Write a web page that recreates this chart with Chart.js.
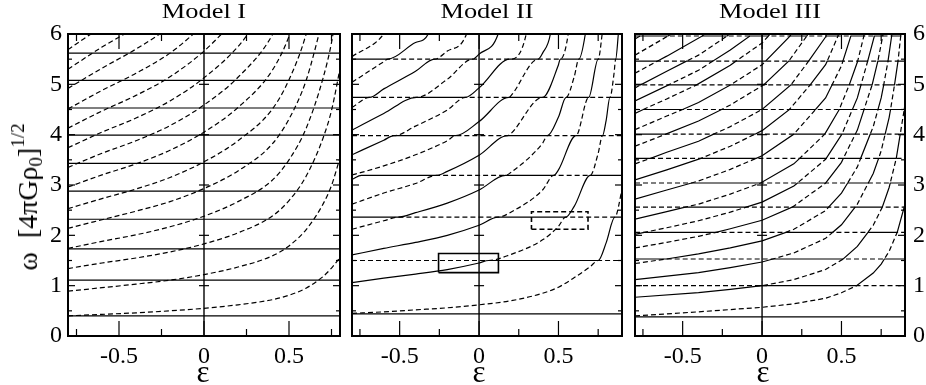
<!DOCTYPE html>
<html><head><meta charset="utf-8">
<script src="https://cdn.jsdelivr.net/npm/chart.js@4.4.0/dist/chart.umd.min.js"></script>
<style>
html,body{margin:0;padding:0;background:#fff;}
body{width:926px;height:385px;position:relative;overflow:hidden;font-family:"Liberation Serif","Times New Roman",serif;color:#000;}
canvas{position:absolute;top:0;}
.ttl{position:absolute;top:0px;font-size:22px;line-height:22px;white-space:nowrap;transform:translateX(-50%) scaleX(1.2);}
.eps{position:absolute;top:356px;font-size:31px;line-height:31px;white-space:nowrap;transform:translateX(-50%);}
#ytitle{position:absolute;left:27px;top:197px;font-size:28px;line-height:28px;white-space:nowrap;transform:translate(-50%,-50%) rotate(-90deg);}
#ytitle sub{font-size:19px;vertical-align:-5px;}
#ytitle sup{font-size:19px;vertical-align:13px;}
</style></head>
<body>
<canvas id="c1" width="346" height="385" style="left:0px"></canvas>
<canvas id="c2" width="282" height="385" style="left:346px"></canvas>
<canvas id="c3" width="298" height="385" style="left:628px"></canvas>
<div class="ttl" style="left:204px">Model I</div>
<div class="ttl" style="left:487px">Model II</div>
<div class="ttl" style="left:770px">Model III</div>
<div class="eps" style="left:203px">ε</div>
<div class="eps" style="left:479px">ε</div>
<div class="eps" style="left:763px">ε</div>
<div id="ytitle">ω&nbsp;&nbsp;[4πGρ<sub>0</sub>]<sup>1/2</sup></div>
<script>
// ---------- axis ticks ----------
const xLabels = [-0.5, 0, 0.5];
const yLabels = [0, 1, 2, 3, 4, 5, 6];
const xMajor = [-0.5, 0, 0.5];
const xMinor = [-0.75, -0.25, 0.25, 0.75];
const yMajor = [1, 2, 3, 4, 5];
const yMinor = [0.5, 1.5, 2.5, 3.5, 4.5, 5.5];

// ---------- Model I ----------
const m1Eps = [-0.8, -0.6, -0.4, -0.2, 0, 0.2, 0.4, 0.5, 0.6, 0.7, 0.75, 0.8];
const m1Flat = [0.40, 1.11, 1.73, 2.32, 2.88, 3.43, 3.99, 4.53, 5.08, 5.62];
const m1Rise = [
  [0.40, 0.43, 0.46, 0.50, 0.55, 0.62, 0.72, 0.81, 0.95, 1.18, 1.35, 1.56],
  [0.89, 0.96, 1.03, 1.11, 1.22, 1.37, 1.59, 1.79, 2.11, 2.62, 2.99, 3.54],
  [1.34, 1.45, 1.55, 1.67, 1.83, 2.05, 2.38, 2.69, 3.17, 3.93, 4.48, 5.31],
  [1.74, 1.88, 2.01, 2.17, 2.38, 2.67, 3.09, 3.50, 4.12, 5.12, 5.83, 6.90],
  [2.14, 2.31, 2.48, 2.67, 2.93, 3.28, 3.81, 4.31, 5.07, 6.30],
  [2.53, 2.73, 2.92, 3.15, 3.46, 3.88, 4.50, 5.09, 5.99, 7.44],
  [2.96, 3.20, 3.42, 3.69, 4.05, 4.54, 5.27, 5.95, 7.01],
  [3.35, 3.63, 3.88, 4.18, 4.59, 5.14, 5.97, 6.75],
  [3.74, 4.05, 4.33, 4.67, 5.13, 5.75, 6.67],
  [4.13, 4.47, 4.78, 5.15, 5.66, 6.34],
  [4.51, 4.88, 5.22, 5.62, 6.18],
  [4.92, 5.32, 5.70, 6.13],
  [5.30, 5.74, 6.13],
  [5.69, 6.15]
];

// ---------- Model II : [eps, omega] ----------
const m2Solid = [
  [[-0.8, 0.44], [0.9, 0.44]],
  [[-0.8, 1.06], [-0.6, 1.15], [-0.4, 1.23], [-0.2, 1.32], [0, 1.45], [0.06, 1.50], [0.75, 1.50], [0.8, 1.85], [0.855, 2.36], [0.9, 2.36]],
  [[-0.8, 1.61], [-0.6, 1.74], [-0.4, 1.86], [-0.2, 2.00], [0, 2.20], [0.12, 2.36], [0.545, 2.36], [0.6, 2.58], [0.70, 3.19], [0.9, 3.19]],
  [[-0.8, 2.36], [-0.51, 2.36], [-0.4, 2.45], [-0.2, 2.64], [0, 2.90], [0.166, 3.19], [0.47, 3.19], [0.5, 3.30], [0.61, 3.98], [0.777, 3.98], [0.8, 4.28], [0.824, 4.74], [0.9, 4.74]],
  [[-0.8, 3.11], [-0.74, 3.19], [-0.267, 3.19], [-0.2, 3.27], [0, 3.59], [0.18, 3.98], [0.43, 3.98], [0.5, 4.35], [0.548, 4.74], [0.69, 4.74], [0.75, 5.50], [0.86, 5.50], [0.877, 6.0], [0.885, 6.3]],
  [[-0.8, 3.60], [-0.6, 3.89], [-0.536, 3.98], [-0.147, 3.98], [0, 4.26], [0.188, 4.74], [0.40, 4.74], [0.5, 5.39], [0.511, 5.50], [0.628, 5.50], [0.669, 6.0], [0.68, 6.3]],
  [[-0.8, 4.09], [-0.6, 4.42], [-0.395, 4.74], [-0.086, 4.74], [0, 4.93], [0.193, 5.50], [0.372, 5.50], [0.4, 5.62], [0.449, 6.0], [0.46, 6.3]],
  [[-0.8, 4.74], [-0.69, 4.74], [-0.6, 4.91], [-0.4, 5.26], [-0.28, 5.50], [-0.04, 5.50], [0, 5.60], [0.12, 6.0], [0.14, 6.3]],
  [[-0.8, 5.50], [-0.574, 5.50], [-0.4, 5.83], [-0.32, 6.0], [-0.3, 6.3]]
];
const m2Dashed = [
  [[-0.8, 0.45], [-0.6, 0.48], [-0.4, 0.52], [-0.2, 0.56], [0, 0.62], [0.2, 0.70], [0.4, 0.85], [0.5, 0.97], [0.6, 1.16], [0.7, 1.38], [0.75, 1.50], [0.9, 1.50]],
  [[-0.8, 1.50], [0.06, 1.50], [0.2, 1.62], [0.4, 1.91], [0.5, 2.18], [0.545, 2.36], [0.855, 2.36], [0.9, 2.90]],
  [[-0.8, 2.12], [-0.6, 2.29], [-0.51, 2.36], [0.12, 2.36], [0.2, 2.46], [0.4, 2.90], [0.47, 3.19], [0.70, 3.19], [0.75, 3.63], [0.777, 3.98], [0.9, 3.98]],
  [[-0.8, 2.62], [-0.6, 2.84], [-0.4, 3.03], [-0.267, 3.19], [0.166, 3.19], [0.2, 3.25], [0.4, 3.83], [0.43, 3.98], [0.61, 3.98], [0.69, 4.74], [0.824, 4.74], [0.85, 5.22], [0.86, 5.50], [0.9, 5.50]],
  [[-0.8, 3.20], [-0.74, 3.25], [-0.6, 3.38], [-0.4, 3.60], [-0.2, 3.88], [-0.147, 3.98], [0.18, 3.98], [0.2, 4.02], [0.4, 4.74], [0.548, 4.74], [0.6, 5.16], [0.628, 5.50], [0.75, 5.50], [0.775, 6.0], [0.785, 6.3]],
  [[-0.8, 3.98], [-0.536, 3.98], [-0.4, 4.17], [-0.2, 4.49], [-0.086, 4.74], [0.188, 4.74], [0.2, 4.77], [0.372, 5.50], [0.511, 5.50], [0.561, 6.0], [0.57, 6.3]],
  [[-0.8, 4.54], [-0.69, 4.74], [-0.395, 4.74], [-0.2, 5.10], [-0.04, 5.50], [0.193, 5.50], [0.297, 6.0], [0.31, 6.3]],
  [[-0.8, 5.04], [-0.6, 5.45], [-0.574, 5.50], [-0.28, 5.50], [-0.2, 5.66], [-0.079, 6.0], [-0.06, 6.3]],
  [[-0.8, 5.55], [-0.6, 6.0], [-0.55, 6.3]]
];
const m2BoxSolid = [[-0.255, 1.26], [0.122, 1.26], [0.122, 1.64], [-0.255, 1.64], [-0.255, 1.26]];
const m2BoxDashed = [[0.33, 2.12], [0.686, 2.12], [0.686, 2.47], [0.33, 2.47], [0.33, 2.12]];

// ---------- Model III : [eps, omega] ----------
const m3Solid = [
  [[-0.8, 0.38], [0.9, 0.38]],
  [[-0.8, 0.77], [-0.4, 0.86], [-0.2, 0.925], [0, 1.00], [0.595, 1.00], [0.7, 1.25], [0.75, 1.43], [0.77, 1.53], [0.9, 1.53]],
  [[-0.8, 1.12], [-0.4, 1.26], [-0.2, 1.36], [0, 1.47], [0.068, 1.53], [0.511, 1.53], [0.6, 1.78], [0.667, 2.06], [0.851, 2.06], [0.895, 2.56], [0.9, 2.56]],
  [[-0.8, 1.53], [-0.602, 1.53], [-0.4, 1.63], [-0.2, 1.75], [0, 1.89], [0.15, 2.06], [0.445, 2.06], [0.5, 2.21], [0.586, 2.56], [0.757, 2.56], [0.8, 2.95], [0.807, 3.04], [0.9, 3.04]],
  [[-0.8, 2.02], [-0.742, 2.06], [-0.29, 2.06], [-0.2, 2.13], [0, 2.30], [0.189, 2.56], [0.419, 2.56], [0.5, 2.84], [0.539, 3.04], [0.669, 3.04], [0.7, 3.23], [0.734, 3.53], [0.845, 3.53], [0.87, 4.01], [0.9, 4.01]],
  [[-0.8, 2.32], [-0.6, 2.47], [-0.484, 2.56], [-0.1, 2.56], [0, 2.66], [0.2, 2.98], [0.223, 3.04], [0.401, 3.04], [0.5, 3.45], [0.512, 3.53], [0.621, 3.53], [0.681, 4.01], [0.775, 4.01], [0.8, 4.34], [0.809, 4.50], [0.895, 4.50], [0.9, 4.60]],
  [[-0.8, 2.72], [-0.6, 2.90], [-0.444, 3.04], [-0.009, 3.04], [0.2, 3.42], [0.237, 3.53], [0.404, 3.53], [0.503, 4.01], [0.587, 4.01], [0.6, 4.09], [0.642, 4.50], [0.730, 4.50], [0.75, 4.73], [0.766, 4.99], [0.834, 4.99], [0.856, 5.46], [0.9, 5.46]],
  [[-0.8, 3.10], [-0.6, 3.30], [-0.385, 3.53], [-0.037, 3.53], [0, 3.58], [0.2, 4.01], [0.395, 4.01], [0.486, 4.50], [0.569, 4.50], [0.6, 4.73], [0.623, 4.99], [0.693, 4.99], [0.729, 5.46], [0.793, 5.46], [0.816, 5.96], [0.873, 5.96], [0.884, 6.3]],
  [[-0.8, 3.53], [-0.702, 3.53], [-0.6, 3.65], [-0.4, 3.87], [-0.305, 4.01], [-0.045, 4.01], [0, 4.08], [0.172, 4.50], [0.337, 4.50], [0.4, 4.73], [0.441, 4.99], [0.549, 4.99], [0.602, 5.46], [0.665, 5.46], [0.707, 5.96], [0.76, 5.96], [0.777, 6.3]],
  [[-0.8, 4.01], [-0.606, 4.01], [-0.4, 4.27], [-0.255, 4.50], [0, 4.50], [0.182, 4.99], [0.303, 4.99], [0.4, 5.39], [0.41, 5.46], [0.509, 5.46], [0.559, 5.96], [0.641, 5.96], [0.668, 6.3]],
  [[-0.8, 4.42], [-0.748, 4.50], [-0.5, 4.50], [-0.4, 4.64], [-0.197, 4.99], [0.01, 4.99], [0.168, 5.46], [0.293, 5.46], [0.4, 5.94], [0.402, 5.96], [0.478, 5.96], [0.516, 6.3]],
  [[-0.8, 4.67], [-0.588, 4.99], [-0.412, 4.99], [-0.2, 5.38], [-0.165, 5.46], [0.022, 5.46], [0.176, 5.96], [0.282, 5.96], [0.35, 6.3]],
  [[-0.8, 4.99], [-0.764, 4.99], [-0.6, 5.26], [-0.476, 5.46], [-0.311, 5.46], [-0.2, 5.68], [-0.077, 5.96], [0.04, 5.96], [0.137, 6.3]],
  [[-0.8, 5.46], [-0.66, 5.46], [-0.6, 5.56], [-0.377, 5.96], [-0.22, 5.96], [-0.077, 6.3]],
  [[-0.8, 5.90], [-0.768, 5.96], [-0.592, 5.96], [-0.408, 6.3]]
];
const m3Dashed = [
  [[-0.8, 0.40], [-0.4, 0.48], [0, 0.57], [0.2, 0.64], [0.4, 0.75], [0.5, 0.86], [0.595, 1.00], [0.9, 1.00]],
  [[-0.8, 1.00], [0, 1.00], [0.2, 1.12], [0.4, 1.32], [0.511, 1.53], [0.77, 1.53], [0.8, 1.68], [0.851, 2.06], [0.9, 2.06]],
  [[-0.8, 1.44], [-0.602, 1.53], [0.068, 1.53], [0.2, 1.65], [0.4, 1.94], [0.445, 2.06], [0.667, 2.06], [0.7, 2.2], [0.757, 2.56], [0.895, 2.56], [0.9, 2.62]],
  [[-0.8, 1.75], [-0.6, 1.86], [-0.4, 1.98], [-0.29, 2.06], [0.15, 2.06], [0.2, 2.12], [0.4, 2.49], [0.419, 2.56], [0.586, 2.56], [0.6, 2.62], [0.669, 3.04], [0.807, 3.04], [0.845, 3.53], [0.9, 3.53]],
  [[-0.8, 2.06], [-0.742, 2.06], [-0.6, 2.15], [-0.4, 2.29], [-0.2, 2.46], [-0.1, 2.56], [0.189, 2.56], [0.2, 2.58], [0.401, 3.04], [0.539, 3.04], [0.6, 3.36], [0.621, 3.53], [0.734, 3.53], [0.75, 3.68], [0.775, 4.01], [0.87, 4.01], [0.895, 4.50], [0.9, 4.50]],
  [[-0.8, 2.56], [-0.484, 2.56], [-0.4, 2.62], [-0.2, 2.82], [-0.009, 3.04], [0.223, 3.04], [0.4, 3.51], [0.404, 3.53], [0.512, 3.53], [0.587, 4.01], [0.681, 4.01], [0.7, 4.16], [0.730, 4.50], [0.809, 4.50], [0.834, 4.99], [0.9, 4.99]],
  [[-0.8, 3.04], [-0.444, 3.04], [-0.4, 3.08], [-0.2, 3.31], [-0.037, 3.53], [0.237, 3.53], [0.395, 4.01], [0.503, 4.01], [0.569, 4.50], [0.642, 4.50], [0.693, 4.99], [0.766, 4.99], [0.793, 5.46], [0.856, 5.46], [0.873, 5.96], [0.9, 5.96]],
  [[-0.8, 3.42], [-0.702, 3.53], [-0.385, 3.53], [-0.2, 3.77], [-0.045, 4.01], [0.2, 4.01], [0.337, 4.50], [0.486, 4.50], [0.549, 4.99], [0.623, 4.99], [0.665, 5.46], [0.729, 5.46], [0.76, 5.96], [0.816, 5.96], [0.829, 6.3]],
  [[-0.8, 3.77], [-0.606, 4.01], [-0.305, 4.01], [-0.2, 4.16], [0, 4.50], [0.172, 4.50], [0.303, 4.99], [0.441, 4.99], [0.5, 5.37], [0.509, 5.46], [0.602, 5.46], [0.641, 5.96], [0.707, 5.96], [0.728, 6.3]],
  [[-0.8, 4.10], [-0.6, 4.37], [-0.5, 4.50], [-0.255, 4.50], [-0.2, 4.59], [0.01, 4.99], [0.182, 4.99], [0.293, 5.46], [0.41, 5.46], [0.478, 5.96], [0.559, 5.96], [0.593, 6.3]],
  [[-0.8, 4.50], [-0.748, 4.50], [-0.6, 4.71], [-0.412, 4.99], [-0.197, 4.99], [0, 5.39], [0.022, 5.46], [0.168, 5.46], [0.282, 5.96], [0.402, 5.96], [0.444, 6.3]],
  [[-0.8, 4.93], [-0.764, 4.99], [-0.588, 4.99], [-0.4, 5.28], [-0.311, 5.46], [-0.165, 5.46], [0, 5.82], [0.04, 5.96], [0.176, 5.96], [0.249, 6.3]],
  [[-0.8, 5.22], [-0.66, 5.46], [-0.476, 5.46], [-0.4, 5.58], [-0.22, 5.96], [-0.077, 5.96], [0.043, 6.3]],
  [[-0.8, 5.58], [-0.592, 5.96], [-0.377, 5.96], [-0.225, 6.3]],
  [[-0.8, 5.96], [-0.768, 5.96], [-0.592, 6.3]]
];

// ---------- helpers ----------
const FONT = "'Liberation Serif','Times New Roman',serif";
function ds(points, dashed, smooth, width) {
  return {
    data: points.map(p => ({x: p[0], y: p[1]})),
    showLine: true, borderColor: '#000', backgroundColor: '#000',
    borderWidth: width || 1.2, pointRadius: 0, pointHoverRadius: 0,
    borderDash: dashed ? [5, 3] : [],
    cubicInterpolationMode: smooth ? 'monotone' : 'default', tension: 0,
    fill: false, parsing: false
  };
}
const gracePlugin = {
  id: 'grace',
  afterDatasetsDraw(chart) {
    const ctx = chart.ctx, a = chart.chartArea, x = chart.scales.x, y = chart.scales.y;
    const seg = (x1, y1, x2, y2) => { ctx.beginPath(); ctx.moveTo(x1, y1); ctx.lineTo(x2, y2); ctx.stroke(); };
    ctx.save();
    ctx.strokeStyle = '#000';
    const x0 = x.getPixelForValue(0);
    ctx.lineWidth = 1.4;
    seg(x0, a.top, x0, a.bottom);
    ctx.lineWidth = 1.2;
    xMajor.concat(xMinor).forEach(v => {
      if (v <= x.min || v >= x.max) return;
      const L = xMajor.includes(v) ? 15 : 7;
      const p = x.getPixelForValue(v);
      seg(p, a.bottom, p, a.bottom - L);
      seg(p, a.top, p, a.top + L);
    });
    yMajor.concat(yMinor).forEach(v => {
      const major = yMajor.includes(v);
      const L = major ? 7 : 4;
      const p = y.getPixelForValue(v);
      seg(a.left, p, a.left + L, p);
      seg(a.right, p, a.right - L, p);
      if (major) seg(x0 - 5, p, x0 + 5, p);
    });
    ctx.lineWidth = 2;
    ctx.strokeRect(a.left, a.top, a.right - a.left, a.bottom - a.top);
    ctx.restore();
  }
};
const tickFont = {family: FONT, size: 24};
function makeChart(id, datasets, xmax, yCfg, pad) {
  return new Chart(document.getElementById(id), {
    type: 'scatter',
    data: {datasets},
    plugins: [gracePlugin],
    options: {
      responsive: false, animation: false, devicePixelRatio: 1, events: [],
      layout: {padding: pad},
      plugins: {legend: {display: false}, tooltip: {enabled: false}, title: {display: false}},
      scales: {
        x: {
          type: 'linear', min: -0.8, max: xmax,
          grid: {display: false, drawTicks: false}, border: {display: false},
          ticks: {font: tickFont, color: '#000', padding: 6, maxRotation: 0, autoSkip: false, callback: v => String(v)},
          afterBuildTicks: s => { s.ticks = xLabels.map(v => ({value: v})); },
          afterFit: s => { s.height = 49; }
        },
        y: Object.assign({
          type: 'linear', min: 0, max: 6,
          grid: {display: false, drawTicks: false}, border: {display: false},
          ticks: {font: tickFont, color: '#000', padding: 6, autoSkip: false, callback: v => String(v)},
          afterBuildTicks: s => { s.ticks = yLabels.map(v => ({value: v})); }
        }, yCfg)
      }
    }
  });
}

// Model I
const d1 = [];
m1Flat.forEach(v => d1.push(ds([[-0.8, v], [0.8, v]], false, false)));
m1Rise.forEach(arr => d1.push(ds(arr.map((v, i) => [m1Eps[i], v]), true, true)));
makeChart('c1', d1, 0.8, {position: 'left', afterFit: s => { s.width = 68; }}, {left: 0, right: 6, top: 34, bottom: 0});

// Model II
const d2 = [];
m2Solid.forEach(arr => d2.push(ds(arr, false, true)));
m2Dashed.forEach(arr => d2.push(ds(arr, true, true)));
d2.push(ds(m2BoxSolid, false, false, 1.6));
d2.push(ds(m2BoxDashed, true, false, 1.6));
makeChart('c2', d2, 0.9, {display: false}, {left: 6, right: 6, top: 34, bottom: 0});

// Model III
const d3 = [];
m3Solid.forEach(arr => d3.push(ds(arr, false, false)));
m3Dashed.forEach(arr => d3.push(ds(arr, true, false)));
makeChart('c3', d3, 0.9, {position: 'right', ticks: {font: tickFont, color: '#000', padding: 8, autoSkip: false, callback: v => String(v)}, afterFit: s => { s.width = 21; }}, {left: 7, right: 0, top: 34, bottom: 0});
</script>
</body></html>
